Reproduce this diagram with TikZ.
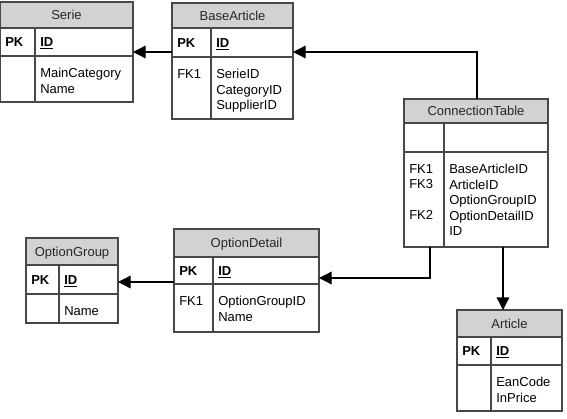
\documentclass[tikz,border=0pt]{standalone}
\usepackage{fontspec}
\setmainfont{Liberation Sans}
\usetikzlibrary{positioning,arrows.meta,fit,calc}
\definecolor{headGray}{HTML}{D2D2D2}
\definecolor{lineGray}{HTML}{484848}

% one table: name, left, top, right, divider, header bottom, key row bottom, bottom, title
\newcommand{\ertable}[9]{%
  \node[tablebox, fit={(#2,#3) (#4,#8)}] (#1) {};
  \fill[headfill] (#1.north west) rectangle (#4,#6);
  \draw[tabline] (#2,#6) -- (#4,#6) (#2,#7) -- (#4,#7) (#5,#6) -- (#5,#8);
  \draw[tabline] (#1.north west) rectangle (#1.south east);
  \node[headtext] (#1-title) at ({(#2+#4)/2},{(#3+#6)/2+4.6}) {#9};
  \coordinate (#1-k) at (#2+5,{(#6+#7)/2+4.6});
  \coordinate (#1-f) at (#5+5,{(#6+#7)/2+4.6});
  \coordinate (#1-kb) at (#2+5,#7+12);
  \coordinate (#1-fb) at (#5+5,#7+12);
}

\begin{document}
\begin{tikzpicture}[x=0.75pt, y=-0.75pt, font=\fontsize{9.75}{11.6}\selectfont,
    >={Triangle[length=9.5pt,width=9.5pt]},
    tablebox/.style={inner sep=0pt, outer sep=0pt},
    headfill/.style={fill=headGray},
    tabline/.style={draw=lineGray, line width=0.8pt},
    headtext/.style={anchor=base, inner sep=0pt, text=black!85},
    keyb/.style={anchor=base west, inner sep=0pt, font=\fontsize{9.75}{11.6}\selectfont\bfseries},
    cols/.style={anchor=north west, inner sep=0pt, align=left},
    fk/.style={->, line width=1pt}]
  \useasboundingbox (0,0) rectangle (567,418);

  % tables
  \ertable{serie}{0}{2}{133}{35}{28}{56}{102}{Serie}
  \node[keyb] (serie-pk) at (serie-k) {PK};
  \node[keyb] (serie-id) at (serie-f) {\underline{ID}};
  \node[cols] (serie-fields) at (serie-fb) {MainCategory\\Name};

  \ertable{base}{172}{3}{293}{211}{28}{57}{119}{BaseArticle}
  \node[keyb] (base-pk) at (base-k) {PK};
  \node[keyb] (base-id) at (base-f) {\underline{ID}};
  \node[cols] (base-keys) at (base-kb) {FK1};
  \node[cols] (base-fields) at (base-fb) {SerieID\\CategoryID\\SupplierID};

  \ertable{conn}{404}{99}{548}{444}{123}{152}{247}{ConnectionTable}
  \node[cols] (conn-keys) at (conn-kb) {FK1\\FK3\\\mbox{}\\FK2};
  \node[cols] (conn-fields) at (conn-fb) {BaseArticleID\\ArticleID\\OptionGroupID\\OptionDetailID\\ID};

  \ertable{group}{26}{238}{118}{59}{265}{294}{323}{OptionGroup}
  \node[keyb] (group-pk) at (group-k) {PK};
  \node[keyb] (group-id) at (group-f) {\underline{ID}};
  \node[cols] (group-fields) at (group-fb) {Name};

  \ertable{detail}{174}{229}{319}{213}{257}{284}{332}{OptionDetail}
  \node[keyb] (detail-pk) at (detail-k) {PK};
  \node[keyb] (detail-id) at (detail-f) {\underline{ID}};
  \node[cols] (detail-keys) at (detail-kb) {FK1};
  \node[cols] (detail-fields) at (detail-fb) {OptionGroupID\\Name};

  \ertable{article}{457}{310}{562}{491}{337}{365}{411}{Article}
  \node[keyb] (article-pk) at (article-k) {PK};
  \node[keyb] (article-id) at (article-f) {\underline{ID}};
  \node[cols] (article-fields) at (article-fb) {EanCode\\InPrice};

  % relations
  \coordinate (serie-in) at (150,52);
  \draw[fk] (base.west |- serie-in) -- (serie.east |- serie-in);
  \coordinate (base-bend) at (477,52);
  \draw[fk] (conn.north -| base-bend) -- (base-bend) -- (base.east |- base-bend);
  \coordinate (detail-bend) at (430,278);
  \draw[fk] (conn.south -| detail-bend) -- (detail-bend) -- (detail.east |- detail-bend);
  \coordinate (article-drop) at (503,290);
  \draw[fk] (conn.south -| article-drop) -- (article.north -| article-drop);
  \coordinate (group-in) at (150,282);
  \draw[fk] (detail.west |- group-in) -- (group.east |- group-in);
\end{tikzpicture}
\end{document}
